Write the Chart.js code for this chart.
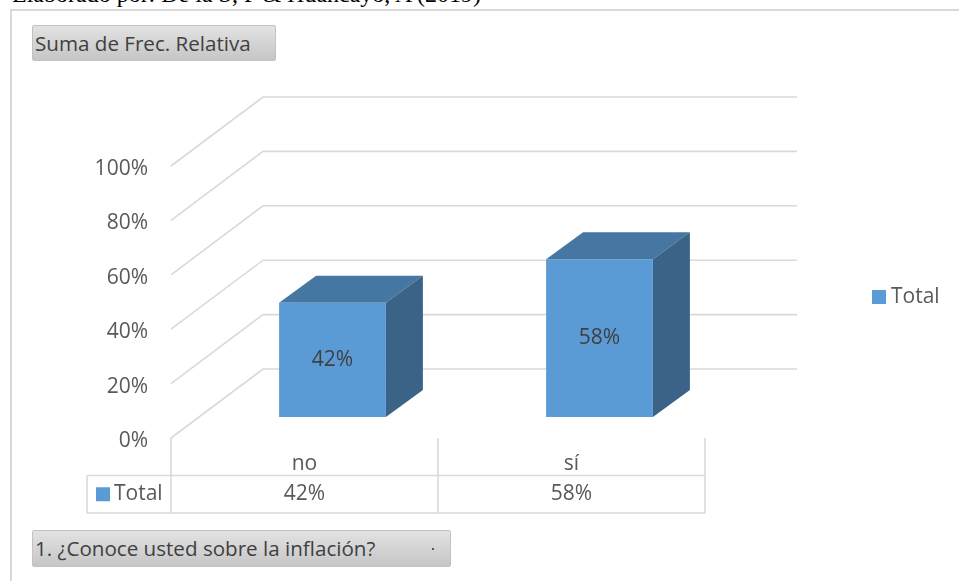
<!DOCTYPE html>
<html>
<head>
<meta charset="utf-8">
<script src="https://cdn.jsdelivr.net/npm/chart.js@4.4.1/dist/chart.umd.min.js"></script>
<style>
  html, body { margin: 0; padding: 0; background: #fff; }
  #wrap { position: relative; width: 959px; height: 581px; overflow: hidden; }
  #chart { position: absolute; left: 0; top: 0; }
  .frame { position: absolute; left: 10px; top: 9px; width: 960px; height: 600px; border: 2px solid #d9d9d9; }
  .caption { position: absolute; left: 12px; top: -18px; font: 24px "Liberation Serif", serif; color: #000; white-space: nowrap; line-height: 24px; }
  .btn { position: absolute; box-sizing: border-box; background: linear-gradient(#e2e2e2, #c6c6c6); border: 1px solid #c2c2c2; border-radius: 2px;
         font: 20.6px "Open Sans", sans-serif; color: #404040; padding-left: 2px; white-space: nowrap; }
  .dot { position: absolute; right: 16px; top: 17px; width: 2px; height: 2px; background: #555; }
</style>
</head>
<body>
<div id="wrap">
  <div class="caption">Elaborado por: De la S, P &amp; Huancayo, A (2019)</div>
  <div class="frame"></div>
  <div class="btn" style="left:32px; top:25px; width:244px; height:36px; line-height:34px;">Suma de Frec. Relativa</div>
  <div class="btn" style="left:32px; top:530px; width:419px; height:37px; line-height:35px;">1. ¿Conoce usted sobre la inflación?<span class="dot"></span></div>
  <canvas id="chart" width="959" height="581"></canvas>
</div>
<script>
// --- data ---
const categories = ['no', 'sí'];
const seriesName = 'Total';
const totals = [0.42, 0.58];
const yTicks = [0, 0.2, 0.4, 0.6, 0.8, 1];

// --- look ---
const FRONT_COLOR = '#5b9bd5';
const TOP_COLOR = '#4676a2';
const SIDE_COLOR = '#3a6387';
const GRID_COLOR = '#d9d9d9';
const TEXT_COLOR = '#595959';
const FONT = '21px "Open Sans"';
const WALL = { dx: 92, dy: -69 };    // front plane -> back wall
const FRONT = { dx: 28, dy: -21 };   // front plane -> bar front faces
const DEPTH = { dx: 37, dy: -27 };   // bar depth
const ROW_H = 37.5;
const TABLE_LEFT = 87;

const pct = v => Math.round(v * 100) + '%';

Chart.defaults.font.family = '"Open Sans", sans-serif';
Chart.defaults.font.size = 21;
Chart.defaults.color = TEXT_COLOR;

const excel3d = {
    id: 'excel3d',
    beforeDatasetsDraw(chart) {
        const { ctx, chartArea: a, scales: { x, y } } = chart;
        ctx.save();
        ctx.strokeStyle = GRID_COLOR;
        ctx.lineWidth = 1.6;

        // side wall diagonals + back wall gridlines
        y.ticks.forEach(t => {
            const py = y.getPixelForValue(t.value);
            ctx.beginPath();
            ctx.moveTo(a.left, py);
            ctx.lineTo(a.left + WALL.dx, py + WALL.dy);
            ctx.lineTo(a.right + WALL.dx, py + WALL.dy);
            ctx.stroke();
        });

        // data table grid
        const catW = (a.right - a.left) / categories.length;
        const bounds = [a.left];
        categories.forEach((c, i) => bounds.push(x.getPixelForValue(i) + catW / 2));
        ctx.beginPath();
        bounds.forEach(bx => { ctx.moveTo(bx, a.bottom); ctx.lineTo(bx, a.bottom + 2 * ROW_H); });
        ctx.moveTo(TABLE_LEFT, a.bottom + ROW_H); ctx.lineTo(a.right, a.bottom + ROW_H);
        ctx.moveTo(TABLE_LEFT, a.bottom + 2 * ROW_H); ctx.lineTo(a.right, a.bottom + 2 * ROW_H);
        ctx.moveTo(TABLE_LEFT, a.bottom + ROW_H); ctx.lineTo(TABLE_LEFT, a.bottom + 2 * ROW_H);
        ctx.stroke();

        // data table values row
        const rowY = a.bottom + ROW_H * 1.5;
        ctx.fillStyle = FRONT_COLOR;
        ctx.fillRect(TABLE_LEFT + 9, rowY - 7, 14, 14);
        ctx.fillStyle = TEXT_COLOR;
        ctx.font = FONT;
        ctx.textBaseline = 'middle';
        ctx.textAlign = 'left';
        ctx.fillText(seriesName, TABLE_LEFT + 27, rowY);
        ctx.textAlign = 'center';
        totals.forEach((v, i) => ctx.fillText(pct(v), x.getPixelForValue(i), rowY));

        // legend
        const ly = (a.top + a.bottom) / 2 - 5;
        ctx.fillStyle = FRONT_COLOR;
        ctx.fillRect(872, ly - 7, 14, 14);
        ctx.fillStyle = TEXT_COLOR;
        ctx.textAlign = 'left';
        ctx.fillText(seriesName, 891, ly);
        ctx.restore();
    },
    beforeDatasetDraw() {
        return false; // bars are drawn as boxes below
    },
    afterDatasetsDraw(chart) {
        const { ctx } = chart;
        const meta = chart.getDatasetMeta(0);
        ctx.save();
        meta.data.forEach((bar, i) => {
            const p = bar.getProps(['x', 'y', 'base', 'width'], true);
            const l = p.x - p.width / 2 + FRONT.dx, r = p.x + p.width / 2 + FRONT.dx;
            const t = p.y + FRONT.dy, b = p.base + FRONT.dy;

            ctx.fillStyle = TOP_COLOR;
            ctx.beginPath();
            ctx.moveTo(l, t); ctx.lineTo(l + DEPTH.dx, t + DEPTH.dy);
            ctx.lineTo(r + DEPTH.dx, t + DEPTH.dy); ctx.lineTo(r, t);
            ctx.closePath(); ctx.fill();

            ctx.fillStyle = SIDE_COLOR;
            ctx.beginPath();
            ctx.moveTo(r, t); ctx.lineTo(r + DEPTH.dx, t + DEPTH.dy);
            ctx.lineTo(r + DEPTH.dx, b + DEPTH.dy); ctx.lineTo(r, b);
            ctx.closePath(); ctx.fill();

            ctx.fillStyle = FRONT_COLOR;
            ctx.fillRect(l, t, r - l, b - t);

            ctx.fillStyle = '#404040';
            ctx.font = FONT;
            ctx.textAlign = 'center';
            ctx.textBaseline = 'middle';
            ctx.fillText(pct(totals[i]), (l + r) / 2, (t + b) / 2);
        });
        ctx.restore();
    }
};

new Chart(document.getElementById('chart'), {
    type: 'bar',
    data: {
        labels: categories,
        datasets: [{
            label: seriesName,
            data: totals,
            backgroundColor: FRONT_COLOR,
            barPercentage: 0.4,
            categoryPercentage: 1.0
        }]
    },
    options: {
        responsive: false,
        animation: false,
        layout: { padding: { left: 91, right: 254, top: 166, bottom: 68 } },
        plugins: { legend: { display: false }, tooltip: { enabled: false } },
        scales: {
            x: {
                grid: { display: false },
                border: { display: false },
                ticks: { padding: 5, color: TEXT_COLOR },
                afterFit: s => { s.height = 75; }
            },
            y: {
                min: 0,
                max: 1,
                grid: { display: false, drawTicks: false },
                border: { display: false },
                afterBuildTicks: s => { s.ticks = yTicks.map(v => ({ value: v })); },
                ticks: { padding: 23, labelOffset: 3, color: TEXT_COLOR, callback: v => pct(v) },
                afterFit: s => { s.width = 80; }
            }
        }
    },
    plugins: [excel3d]
});
</script>
</body>
</html>
